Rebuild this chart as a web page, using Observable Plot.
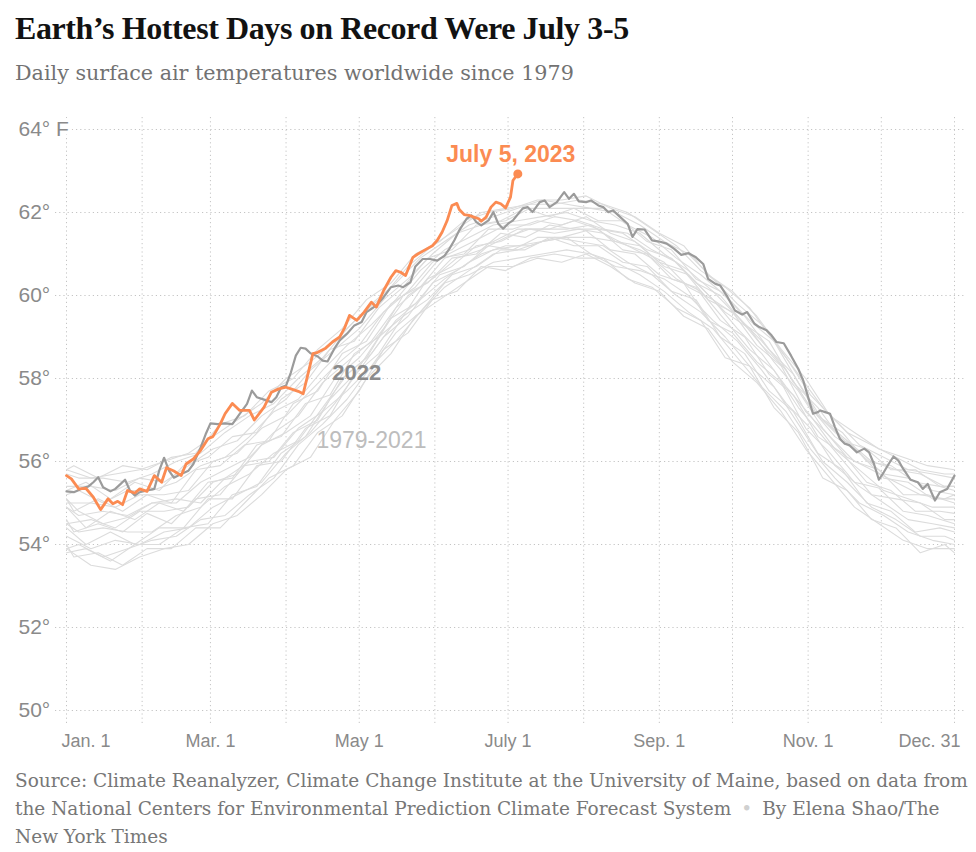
<!DOCTYPE html>
<html>
<head>
<meta charset="utf-8">
<script src="https://cdn.jsdelivr.net/npm/d3@7"></script>
<script src="https://cdn.jsdelivr.net/npm/@observablehq/plot@0.6"></script>
<style>
  body { margin: 0; background: #fff; }
  #wrap { width: 976px; }
  .title { height: 52px; padding-left: 15px; box-sizing: border-box; padding-top: 10px;
    font-family: "Liberation Serif", serif; font-weight: 700; font-size: 32px; line-height: 36px; color: #121212; letter-spacing: -0.4px; }
  .subtitle { height: 48px; padding-left: 15px; box-sizing: border-box; padding-top: 8px;
    font-family: "DejaVu Serif", serif; font-size: 20.7px; line-height: 26px; color: #727272; }
  .caption { padding: 7px 0 0 15px; font-family: "DejaVu Serif", serif; font-size: 18.5px; line-height: 28px; color: #777; }
  .caption .dot { color: #d0d0d0; padding: 0 10px; }
</style>
</head>
<body>
<div id="wrap">
  <div class="title">Earth’s Hottest Days on Record Were July 3-5</div>
  <div class="subtitle">Daily surface air temperatures worldwide since 1979</div>
  <div id="chart"></div>
  <div class="caption">Source: Climate Reanalyzer, Climate Change Institute at the University of Maine, based on data from the National Centers for Environmental Prediction Climate Forecast System<span class="dot">•</span>By Elena Shao/The New York Times</div>
</div>
<script>
// ---- tick positions and labels (day of year, 0 = Jan. 1) ----
const monthStartDays = [0, 31, 59, 90, 120, 151, 181, 212, 243, 273, 304, 334, 364];
const xLabelDays = [0, 59, 120, 181, 243, 304, 364];
const xLabelText = ["Jan. 1", "Mar. 1", "May 1", "July 1", "Sep. 1", "Nov. 1", "Dec. 31"];
const yTicks = [50, 52, 54, 56, 58, 60, 62, 64];
const yLabelText = ["50°", "52°", "54°", "56°", "58°", "60°", "62°", "64° F"];

// ---- 2023 (through July 5) : [day of year, °F] ----
const series2023 = [[0,55.66],[2,55.58],[5,55.34],[8,55.35],[11,55.14],[14,54.84],[17,55.10],[19,54.98],[21,55.04],[23,54.96],[25,55.30],[28,55.24],[30,55.34],[33,55.28],[36,55.66],[39,55.50],[41,55.85],[44,55.77],[47,55.66],[49,55.94],[52,56.06],[55,56.27],[58,56.55],[60,56.60],[63,56.90],[65,57.15],[68,57.40],[71,57.23],[75,57.23],[77,57.00],[81,57.31],[84,57.67],[87,57.75],[90,57.79],[92,57.75],[95,57.69],[97,57.63],[99,58.11],[101,58.60],[103,58.63],[106,58.72],[109,58.88],[112,59.00],[114,59.22],[116,59.52],[119,59.40],[122,59.60],[125,59.84],[127,59.72],[130,60.12],[133,60.44],[135,60.60],[137,60.56],[139,60.48],[142,60.92],[144,61.00],[147,61.10],[150,61.20],[152,61.33],[154,61.53],[156,61.80],[158,62.17],[160,62.22],[161,62.07],[163,61.95],[165,61.93],[167,61.89],[169,61.85],[170,61.79],[172,61.89],[174,62.13],[176,62.25],[178,62.21],[180,62.11],[182,62.37],[183,62.77],[185,62.93]];

// ---- 2022 : [day of year, °F] ----
const series2022 = [[0,55.28],[3,55.26],[6,55.34],[9,55.40],[11,55.50],[13,55.62],[15,55.38],[18,55.28],[20,55.34],[22,55.45],[24,55.56],[26,55.30],[28,55.18],[30,55.26],[33,55.30],[36,55.34],[38,55.78],[40,56.09],[42,55.78],[44,55.61],[47,55.70],[50,55.78],[52,55.94],[55,56.34],[57,56.65],[59,56.92],[62,56.90],[65,56.92],[68,56.90],[71,57.15],[74,57.39],[76,57.71],[78,57.55],[81,57.49],[84,57.43],[86,57.55],[88,57.79],[90,57.83],[92,58.15],[94,58.55],[96,58.74],[98,58.72],[100,58.61],[103,58.53],[105,58.43],[107,58.41],[110,58.74],[112,58.92],[115,59.08],[118,59.28],[121,59.36],[123,59.60],[125,59.68],[127,59.76],[130,59.96],[133,60.20],[136,60.24],[138,60.20],[141,60.32],[143,60.70],[146,60.88],[149,60.88],[152,60.84],[155,60.96],[157,61.13],[159,61.33],[161,61.57],[164,61.85],[166,61.93],[168,61.77],[170,61.69],[173,61.81],[175,62.01],[177,61.73],[179,61.61],[181,61.73],[183,61.81],[187,62.10],[189,62.13],[191,62.01],[194,62.25],[196,62.29],[198,62.13],[201,62.25],[204,62.49],[206,62.33],[208,62.45],[210,62.27],[213,62.25],[215,62.29],[218,62.17],[220,62.13],[222,62.01],[224,62.05],[227,61.89],[230,61.73],[232,61.41],[234,61.60],[237,61.59],[240,61.33],[243,61.30],[246,61.25],[249,61.13],[252,60.98],[255,61.02],[258,60.92],[261,60.76],[263,60.40],[266,60.28],[268,60.24],[271,59.96],[274,59.64],[277,59.54],[279,59.60],[282,59.32],[284,59.24],[287,59.16],[289,59.04],[291,58.88],[294,58.85],[297,58.55],[300,58.23],[302,57.95],[304,57.55],[306,57.15],[308,57.19],[309,57.23],[311,57.19],[313,57.15],[315,56.83],[317,56.55],[319,56.43],[321,56.39],[324,56.22],[327,56.31],[329,56.22],[331,55.94],[333,55.56],[335,55.74],[337,55.94],[339,56.12],[341,56.02],[343,55.82],[346,55.56],[349,55.50],[351,55.34],[353,55.46],[356,55.06],[358,55.26],[361,55.34],[364,55.66]];

// ---- 1979-2021 (a sample of years) ----
const bandDaysA = [0,10,20,30,40,50,60,70,80,90,100,110,120,130,140,150,160,170,180,190,200,210,220,230,240,250,260,270,280,290,300,310,320,330,340,350,360,364];
const bandDaysB = [0,5,15,25,35,45,55,65,75,85,95,105,115,125,135,145,155,165,175,185,195,205,215,225,235,245,255,265,275,285,295,305,315,325,335,345,355,364];
const bandDaysC = [0,3,13,23,33,43,53,63,73,83,93,103,113,123,133,143,153,163,173,183,193,203,213,223,233,243,253,263,273,283,293,303,313,323,333,343,353,364];
const bandDaysD = [0,8,18,28,38,48,58,68,78,88,98,108,118,128,138,148,158,168,178,188,198,208,218,228,238,248,258,268,278,288,298,308,318,328,338,348,358,364];

const bandA1 = [53.9,53.5,53.4,53.7,53.9,54.0,54.5,54.7,55.2,55.8,56.1,57.0,57.7,58.7,59.1,59.9,60.1,60.7,60.6,60.9,61.0,60.9,60.9,60.4,60.2,59.7,59.4,58.5,58.3,57.3,56.7,55.6,55.3,54.6,54.4,53.8,54.0,53.8];
const bandA2 = [54.2,53.9,54.1,54.0,54.3,54.4,54.9,55.2,55.5,56.2,56.7,57.4,58.2,59.0,59.5,60.3,60.6,61.0,61.2,61.2,61.4,61.3,61.2,60.8,60.5,60.0,59.6,59.0,58.3,57.8,56.9,56.0,55.5,54.9,54.6,54.2,54.2,54.1];
const bandA3 = [54.5,54.6,54.4,54.8,54.8,54.9,55.5,55.7,56.4,56.7,57.1,58.0,58.5,59.2,60.0,60.4,60.9,61.1,61.4,61.6,61.5,61.6,61.5,61.2,60.9,60.4,60.1,59.4,58.7,58.2,57.3,56.6,55.9,55.2,55.1,55.0,54.6,54.6];
const bandA4 = [55.0,55.0,54.9,55.2,55.2,55.3,56.0,56.2,56.8,57.1,57.7,58.3,58.8,59.6,60.1,60.8,61.1,61.4,61.7,61.7,61.9,61.8,61.6,61.5,61.1,60.8,60.2,59.6,59.2,58.4,57.7,56.8,56.1,55.8,55.5,55.2,55.1,55.2];
const bandA5 = [55.4,55.4,55.3,55.6,55.5,55.9,56.3,56.5,57.1,57.5,58.2,58.7,59.2,59.9,60.4,61.0,61.5,61.7,61.8,62.1,62.1,62.1,62.1,61.7,61.4,60.9,60.5,60.0,59.4,58.9,57.9,57.0,56.5,56.0,55.8,55.7,55.4,55.4];
const bandA6 = [55.8,55.6,55.7,55.8,56.0,56.2,56.6,57.0,57.4,58.0,58.4,58.9,59.5,60.0,60.7,61.2,61.6,62.0,62.1,62.2,62.2,62.3,62.2,62.0,61.6,61.2,60.6,60.2,59.7,58.9,58.1,57.3,56.7,56.4,56.1,55.8,55.7,55.7];
const bandB1 = [53.9,54.0,53.7,53.9,54.1,54.2,54.6,54.7,55.2,55.6,56.4,56.9,57.5,58.3,58.9,59.6,60.3,60.5,60.8,60.9,61.0,61.1,61.0,60.8,60.5,60.1,59.6,59.2,58.5,57.8,57.2,56.3,55.6,55.0,54.7,54.3,54.1,54.0];
const bandB2 = [54.5,54.3,54.4,54.3,54.3,54.7,54.9,55.4,55.7,56.2,56.5,57.3,58.1,58.6,59.4,59.9,60.4,60.8,61.1,61.2,61.3,61.4,61.0,60.7,60.6,60.4,60.0,59.4,58.9,58.2,57.4,56.8,55.9,55.4,55.0,54.6,54.5,54.4];
const bandB3 = [54.9,54.7,54.8,54.7,55.0,55.0,55.5,55.8,56.1,56.7,57.1,57.9,58.4,58.9,59.7,60.2,60.9,61.1,61.3,61.6,61.6,61.6,61.7,61.3,61.1,60.8,60.2,59.9,59.2,58.6,57.8,57.1,56.3,55.8,55.3,55.1,54.9,54.9];
const bandB4 = [55.2,55.3,55.0,55.3,55.3,55.5,55.9,56.1,56.6,57.2,57.5,58.2,58.8,59.3,59.9,60.6,61.1,61.4,61.7,61.8,61.9,62.0,61.8,61.7,61.5,61.0,60.6,60.1,59.5,58.9,58.2,57.3,56.6,56.2,55.7,55.6,55.3,55.2];
const bandB5 = [55.7,55.6,55.6,55.5,55.7,56.0,56.2,56.7,57.1,57.4,58.0,58.5,59.2,59.8,60.3,60.9,61.3,61.7,61.9,62.1,62.3,62.2,62.1,62.0,61.7,61.3,61.0,60.4,59.8,59.3,58.5,57.6,57.0,56.4,56.1,55.8,55.7,55.6];
const bandB6 = [55.1,54.8,54.5,54.65,55.0,55.1,55.0,55.6,56.0,56.1,56.8,57.2,57.7,58.3,59.1,59.6,60.2,60.6,61.0,61.1,61.3,61.4,61.4,61.3,61.2,60.7,60.5,59.9,59.5,58.8,58.2,57.3,56.7,56.2,55.6,55.5,55.1,55.1];
const bandC1 = [54.0,53.7,53.8,53.5,53.9,53.9,54.4,54.4,55.0,55.6,55.9,56.7,57.1,58.0,58.6,59.5,59.9,60.3,60.7,60.7,60.9,60.8,61.0,60.7,60.3,60.1,59.5,59.2,58.4,57.9,57.2,56.3,55.6,54.9,54.5,54.1,53.9,53.9];
const bandC2 = [54.6,54.3,54.5,54.3,54.75,54.5,55.1,55.2,55.9,56.0,56.7,57.0,58.0,58.5,59.45,59.8,60.5,60.7,61.2,61.1,61.4,61.4,61.56,61.1,61.0,60.5,60.3,59.4,59.1,58.4,57.9,56.8,56.2,55.5,55.36,54.8,54.7,54.5];
const bandC3 = [55.1,54.8,55.1,54.8,55.2,55.0,55.8,55.9,56.4,56.5,57.4,57.7,58.6,58.9,59.8,60.2,60.9,61.0,61.6,61.6,61.8,61.7,61.9,61.5,61.3,60.8,60.6,59.9,59.6,58.8,58.3,57.2,56.6,56.0,55.8,55.2,55.2,55.0];
const bandC4 = [55.8,55.9,55.6,55.9,55.8,56.1,56.2,56.9,57.1,57.7,58.0,58.7,59.2,59.9,60.3,61.0,61.3,61.8,62.0,62.1,62.3,62.3,62.4,62.1,61.9,61.5,61.2,60.5,60.1,59.5,58.7,58.0,57.1,56.7,56.3,56.1,55.9,55.8];
const bandD1 = [54.4,54.0,54.3,54.0,54.4,54.4,55.1,55.1,55.9,56.0,56.8,57.1,58.1,58.6,59.5,59.9,60.5,60.7,61.1,61.1,61.4,61.2,61.2,60.8,60.7,60.1,59.9,59.0,58.6,57.7,57.2,56.2,55.8,55.0,54.8,54.3,54.4,54.3];
const bandD2 = [54.9,54.4,54.8,54.6,55.0,54.8,55.5,55.6,56.4,56.6,57.4,57.6,58.6,59.0,60.0,60.3,60.9,61.0,61.5,61.4,61.7,61.6,61.6,61.1,61.0,60.4,60.2,59.4,59.0,58.1,57.6,56.6,56.2,55.5,55.3,54.8,54.8,54.75];
const bandD3 = [55.3,55.5,55.1,55.5,55.3,55.9,56.1,56.6,56.7,57.5,57.9,58.7,58.9,59.7,60.2,60.9,61.1,61.7,61.8,62.1,61.9,62.1,61.8,61.8,61.3,61.1,60.4,60.1,59.5,58.7,58.1,57.1,56.7,56.0,55.9,55.5,55.4,55.3];
const bandD4 = [53.8,53.9,53.6,54.0,54.0,54.4,54.5,55.2,55.4,56.2,56.6,57.5,58.1,59.0,59.5,60.4,60.7,61.2,61.3,61.6,61.6,61.8,61.6,61.5,61.1,60.9,60.3,60.0,59.3,58.9,57.9,57.3,56.5,56.3,55.8,55.8,55.4,55.4];

// ---- annotation labels ----
const annotText = ["2022", "1979-2021"];
const annotDay = [119, 125];
const annotTemp = [58.14, 56.5];

// ---- build tables ----
const bandRows = [];
[[bandDaysA, [bandA1, bandA2, bandA3, bandA4, bandA5, bandA6]],
 [bandDaysB, [bandB1, bandB2, bandB3, bandB4, bandB5, bandB6]],
 [bandDaysC, [bandC1, bandC2, bandC3, bandC4]],
 [bandDaysD, [bandD1, bandD2, bandD3, bandD4]]].forEach(([days, lines], g) => {
  lines.forEach((vals, k) => vals.forEach((v, i) => bandRows.push({series: `${g}-${k}`, day: days[i], temp: v})));
});
const rows2022 = series2022.map(([day, temp]) => ({day, temp}));
const rows2023 = series2023.map(([day, temp]) => ({day, temp}));
const last2023 = rows2023[rows2023.length - 1];
const yLabels = yTicks.map((v, i) => ({v, t: yLabelText[i]}));
const xLabels = xLabelDays.map((d, i) => ({d, t: xLabelText[i]}));
const annots = annotText.map((t, i) => ({t, day: annotDay[i], temp: annotTemp[i]}));

const ORANGE = "#fb8b52";
const GRID = "#c4c4c4";
const LABEL = "#8a8a8a";

const chart = Plot.plot({
  width: 976,
  height: 660,
  marginLeft: 66,
  marginRight: 22,
  marginTop: 29,
  marginBottom: 50,
  style: {fontFamily: "'Liberation Sans', Arial, sans-serif", background: "#fff", overflow: "visible"},
  x: {domain: [0, 364], axis: null},
  y: {domain: [50, 64], axis: null},
  marks: [
    Plot.ruleX(monthStartDays, {x: d => d, stroke: GRID, strokeDasharray: "1.2,3", insetTop: -12, insetBottom: -13}),
    Plot.ruleY(yTicks, {y: d => d, stroke: GRID, strokeDasharray: "1.2,3", insetLeft: -11, insetRight: -12}),
    Plot.text(yLabels, {y: "v", text: "t", frameAnchor: "left", dx: -48, textAnchor: "start", fontSize: 21, fill: LABEL, stroke: "white", strokeWidth: 8}),
    Plot.text(xLabels.slice(0, 1), {x: "d", text: "t", frameAnchor: "bottom", dy: 36, dx: -5, textAnchor: "start", fontSize: 18, fill: LABEL}),
    Plot.text(xLabels.slice(1, -1), {x: "d", text: "t", frameAnchor: "bottom", dy: 36, textAnchor: "middle", fontSize: 18, fill: LABEL}),
    Plot.text(xLabels.slice(-1), {x: "d", text: "t", frameAnchor: "bottom", dy: 36, dx: 6, textAnchor: "end", fontSize: 18, fill: LABEL}),
    Plot.line(bandRows, {x: "day", y: "temp", z: "series", stroke: "#dcdcdc", strokeWidth: 1.1}),
    Plot.line(rows2022, {x: "day", y: "temp", stroke: "#9b9b9b", strokeWidth: 2.2}),
    Plot.line(rows2023, {x: "day", y: "temp", stroke: ORANGE, strokeWidth: 2.8}),
    Plot.dot([last2023], {x: "day", y: "temp", r: 4.5, fill: ORANGE}),
    Plot.text([last2023], {x: "day", y: "temp", text: () => "July 5, 2023", dx: -7, dy: -19, fontSize: 23, fontWeight: 700, fill: ORANGE}),
    Plot.text(annots.slice(0, 1), {x: "day", y: "temp", text: "t", fontSize: 22, fontWeight: 700, fill: "#8c8c8c"}),
    Plot.text(annots.slice(1), {x: "day", y: "temp", text: "t", fontSize: 23, fill: "#bdbdbd"})
  ]
});
document.getElementById("chart").appendChild(chart);
</script>
</body>
</html>
